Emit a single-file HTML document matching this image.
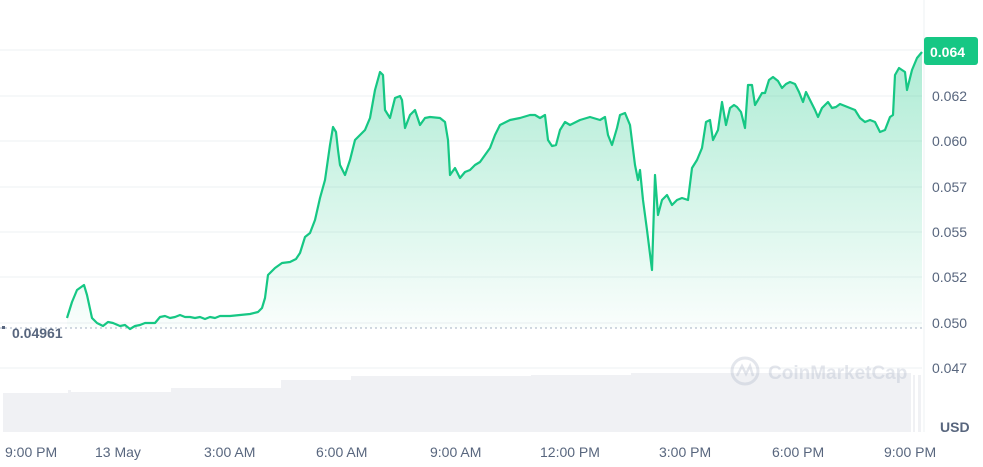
<!DOCTYPE html>
<html><head><style>
body{margin:0;background:#fff;font-family:"Liberation Sans",sans-serif;}
</style></head><body>
<svg width="983" height="462" viewBox="0 0 983 462" xmlns="http://www.w3.org/2000/svg" font-family="Liberation Sans, sans-serif">
<defs>
<linearGradient id="g" x1="0" y1="0" x2="0" y2="1">
<stop offset="0" stop-color="#16c784" stop-opacity="0.35"/>
<stop offset="1" stop-color="#16c784" stop-opacity="0.02"/>
</linearGradient>
</defs>
<g stroke="#eef0f3" stroke-width="1">
<line x1="0" y1="50" x2="922" y2="50"/><line x1="0" y1="96" x2="922" y2="96"/>
<line x1="0" y1="141" x2="922" y2="141"/><line x1="0" y1="187" x2="922" y2="187"/>
<line x1="0" y1="232" x2="922" y2="232"/><line x1="0" y1="277" x2="922" y2="277"/>
<line x1="0" y1="323" x2="922" y2="323"/><line x1="0" y1="368" x2="922" y2="368"/>
<line x1="924" y1="0" x2="924" y2="432"/>
</g>
<g fill="#f0f1f4">
<rect x="3" y="393" width="65" height="39"/>
<rect x="68" y="390" width="3" height="42"/>
<rect x="71" y="392" width="100" height="40"/>
<rect x="171" y="388" width="110" height="44"/>
<rect x="281" y="380" width="70" height="52"/>
<rect x="351" y="376" width="180" height="56"/>
<rect x="531" y="375" width="100" height="57"/>
<rect x="631" y="373" width="280" height="59"/>
<rect x="913" y="375" width="2" height="57"/><rect x="918" y="375" width="3" height="57"/>
</g>
<line x1="0" y1="328" x2="922" y2="328" stroke="#a6b0c3" stroke-width="1" stroke-dasharray="2,3"/>
<polyline fill="url(#g)" stroke="none" points="67,318 72,302 77,290 84,285 87,295 92,318 97,323 103,326 108,322 113,323 120,326 125,325 130,329 135,326 140,325 145,323 150,323 155,323 160,317 165,316 170,318 175,317 180,315 185,317 190,317 195,318 200,317 205,319 210,317 215,318 220,316 230,316 240,315 250,314 258,312 262,308 265,298 268,275 275,268 282,263 290,262 296,259 300,253 305,237 310,233 315,220 320,198 325,180 330,145 333,127 336,132 338,150 340,165 345,175 350,160 355,140 360,135 365,130 370,118 375,90 380,72 383,75 385,110 390,118 395,98 400,96 402,100 405,128 410,115 415,110 420,125 425,118 430,117 440,118 445,122 448,140 450,175 455,168 460,178 465,172 470,170 475,165 480,162 485,155 490,148 495,135 500,125 510,120 520,118 530,115 535,115 540,118 545,115 548,140 552,146 556,145 560,130 565,122 570,125 580,120 590,117 600,120 605,117 608,135 612,145 617,128 620,115 625,113 630,125 635,165 638,180 640,170 643,200 647,230 652,270 655,175 658,215 662,200 667,195 672,205 677,200 682,198 688,200 692,168 697,160 702,148 706,122 710,120 713,140 718,130 722,102 726,125 730,108 734,105 737,107 741,112 745,128 748,85 752,85 755,105 758,100 762,93 765,93 769,80 773,77 778,81 782,88 786,84 790,82 795,84 799,92 803,102 806,92 810,100 815,110 818,117 822,108 828,102 832,108 836,107 840,104 845,106 850,108 855,110 860,118 865,122 870,120 875,122 880,132 885,130 890,117 893,115 895,75 899,68 905,72 907,90 912,70 917,58 922,52 922,328 67,328"/>
<polyline fill="none" stroke="#16c784" stroke-width="2.2" stroke-linejoin="round" points="67,318 72,302 77,290 84,285 87,295 92,318 97,323 103,326 108,322 113,323 120,326 125,325 130,329 135,326 140,325 145,323 150,323 155,323 160,317 165,316 170,318 175,317 180,315 185,317 190,317 195,318 200,317 205,319 210,317 215,318 220,316 230,316 240,315 250,314 258,312 262,308 265,298 268,275 275,268 282,263 290,262 296,259 300,253 305,237 310,233 315,220 320,198 325,180 330,145 333,127 336,132 338,150 340,165 345,175 350,160 355,140 360,135 365,130 370,118 375,90 380,72 383,75 385,110 390,118 395,98 400,96 402,100 405,128 410,115 415,110 420,125 425,118 430,117 440,118 445,122 448,140 450,175 455,168 460,178 465,172 470,170 475,165 480,162 485,155 490,148 495,135 500,125 510,120 520,118 530,115 535,115 540,118 545,115 548,140 552,146 556,145 560,130 565,122 570,125 580,120 590,117 600,120 605,117 608,135 612,145 617,128 620,115 625,113 630,125 635,165 638,180 640,170 643,200 647,230 652,270 655,175 658,215 662,200 667,195 672,205 677,200 682,198 688,200 692,168 697,160 702,148 706,122 710,120 713,140 718,130 722,102 726,125 730,108 734,105 737,107 741,112 745,128 748,85 752,85 755,105 758,100 762,93 765,93 769,80 773,77 778,81 782,88 786,84 790,82 795,84 799,92 803,102 806,92 810,100 815,110 818,117 822,108 828,102 832,108 836,107 840,104 845,106 850,108 855,110 860,118 865,122 870,120 875,122 880,132 885,130 890,117 893,115 895,75 899,68 905,72 907,90 912,70 917,58 922,52"/>
<g opacity="0.3">
<circle cx="745" cy="371" r="13" fill="none" stroke="#a6b0c3" stroke-width="3"/>
<polyline points="737,376 742,366 746,374 750,366 753,376" fill="none" stroke="#a6b0c3" stroke-width="2.5"/>
<text x="768" y="379" font-size="19" font-weight="bold" fill="#a6b0c3">CoinMarketCap</text>
</g>
<rect x="2" y="326" width="3" height="3" fill="#58667e"/>
<text x="12" y="338" font-size="14" font-weight="bold" fill="#58667e">0.04961</text>
<g font-size="14" fill="#58667e">
<text x="932" y="101">0.062</text><text x="932" y="146">0.060</text>
<text x="932" y="192">0.057</text><text x="932" y="237">0.055</text>
<text x="932" y="282">0.052</text><text x="932" y="328">0.050</text>
<text x="932" y="373">0.047</text>
<text x="940" y="432" font-weight="bold">USD</text>
<text x="5" y="457">9:00 PM</text><text x="95" y="457">13 May</text>
<text x="204" y="457">3:00 AM</text><text x="316" y="457">6:00 AM</text>
<text x="430" y="457">9:00 AM</text><text x="540" y="457">12:00 PM</text>
<text x="659" y="457">3:00 PM</text><text x="772" y="457">6:00 PM</text>
<text x="884" y="457">9:00 PM</text>
</g>
<rect x="924" y="37" width="54" height="28" rx="3" fill="#16c784"/>
<text x="930" y="57" font-size="14" font-weight="bold" fill="#fff">0.064</text>
</svg>
</body></html>
